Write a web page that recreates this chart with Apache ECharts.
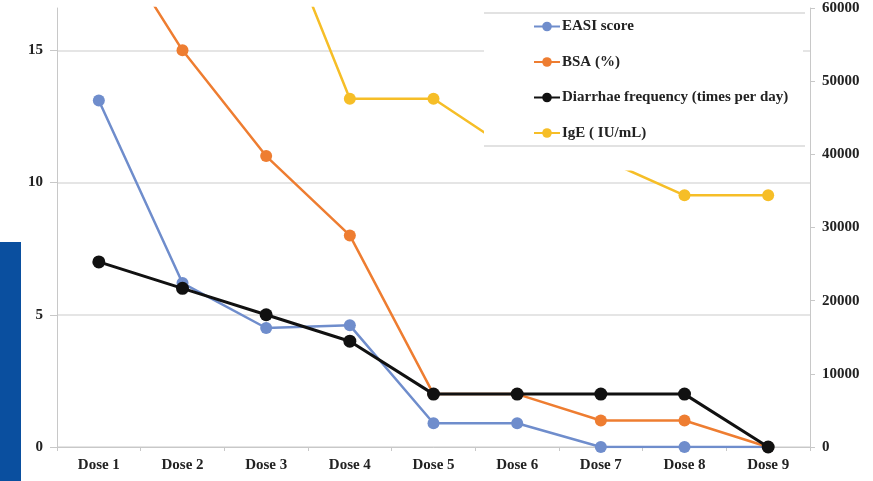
<!DOCTYPE html>
<html>
<head>
<meta charset="utf-8">
<script src="https://cdn.jsdelivr.net/npm/echarts@6/dist/echarts.min.js"></script>
<style>html,body{margin:0;padding:0;background:#fff}#c{width:873px;height:481px}</style>
</head>
<body>
<div id="c"></div>
<script>
const categories = ['Dose 1','Dose 2','Dose 3','Dose 4','Dose 5','Dose 6','Dose 7','Dose 8','Dose 9'];
const easi = [13.1, 6.2, 4.5, 4.6, 0.9, 0.9, 0, 0, 0];
const bsa = [20, 15, 11, 8, 2, 2, 1, 1, 0];
const diarrhea = [7, 6, 5, 4, 2, 2, 2, 2, 0];
const ige = [95000, 90000, 76000, 47600, 47600, 40000, 39500, 34400, 34400];
const leftTicks = [0, 5, 10, 15];
const rightTicks = [0, 10000, 20000, 30000, 40000, 50000, 60000];

const font = '"Liberation Serif", "DejaVu Serif", serif';
const chart = echarts.init(document.getElementById('c'));
const mk = (name, data, color, yIdx, lw, sz, z) => ({
  name, type: 'line', data, yAxisIndex: yIdx, z,
  symbol: 'circle', symbolSize: sz,
  lineStyle: { color, width: lw },
  itemStyle: { color },
  emphasis: { disabled: true },
  animation: false
});
chart.setOption({
  backgroundColor: '#ffffff',
  animation: false,
  grid: { left: 57, right: 63, top: 8, bottom: 34 },
  textStyle: { fontFamily: font },
  xAxis: {
    type: 'category', data: categories, boundaryGap: true,
    axisLine: { lineStyle: { color: '#c8c8c8', width: 1 } },
    axisTick: { show: true, length: 4, lineStyle: { color: '#c8c8c8' } },
    axisLabel: { color: '#222', fontFamily: font, fontWeight: 'bold', fontSize: 15, margin: 11 }
  },
  yAxis: [{
    type: 'value', min: leftTicks[0], max: 16.6, interval: 5,
    axisLine: { show: true, lineStyle: { color: '#c8c8c8' } },
    axisTick: { show: true, length: 7, lineStyle: { color: '#c8c8c8' } },
    axisLabel: { color: '#222', fontFamily: font, fontWeight: 'bold', fontSize: 15, margin: 14,
      showMaxLabel: false,
      formatter: v => leftTicks.includes(v) ? String(v) : '' },
    splitLine: { show: true, showMaxLine: false, lineStyle: { color: '#dcdcdc', width: 1.5 } }
  }, {
    type: 'value', min: rightTicks[0], max: rightTicks[rightTicks.length - 1], interval: 10000,
    position: 'right',
    axisLine: { show: true, lineStyle: { color: '#c8c8c8' } },
    axisTick: { show: true, length: 5, lineStyle: { color: '#c8c8c8' } },
    axisLabel: { color: '#222', fontFamily: font, fontWeight: 'bold', fontSize: 15, margin: 12,
      formatter: v => String(v) },
    splitLine: { show: false }
  }],
  legend: {
    orient: 'vertical', left: 484, top: 13, itemGap: 20.5,
    padding: [6, 0, 30, 49],
    backgroundColor: '#ffffff',
    itemWidth: 26, itemHeight: 12, z: 10,
    data: ['EASI score', 'BSA (%)', 'Diarrhae frequency (times per day)', 'IgE ( IU/mL)'],
    textStyle: { color: '#222', fontFamily: font, fontWeight: 'bold', fontSize: 15,
      width: 241, lineHeight: 15, padding: [0, 0, 0, -3] }
  },
  graphic: [
    { type: 'line', zlevel: 1, z: 100, shape: { x1: 484, y1: 13, x2: 805, y2: 13 }, style: { stroke: '#d8d8d8', lineWidth: 1.5 } },
    { type: 'line', zlevel: 1, z: 100, shape: { x1: 484, y1: 146, x2: 805, y2: 146 }, style: { stroke: '#d8d8d8', lineWidth: 1.5 } },
    { type: 'rect', z: 6, shape: { x: 0, y: 242, width: 21, height: 239 }, style: { fill: '#0a4f9f' } }
  ],
  series: [
    mk('IgE ( IU/mL)', ige, '#f6be27', 1, 2.5, 12, 2),
    mk('EASI score', easi, '#6f8dcc', 0, 2.5, 12, 3),
    mk('BSA (%)', bsa, '#ee7d31', 0, 2.5, 12, 4),
    mk('Diarrhae frequency (times per day)', diarrhea, '#111111', 0, 3, 13, 5)
  ]
});
</script>
</body>
</html>
